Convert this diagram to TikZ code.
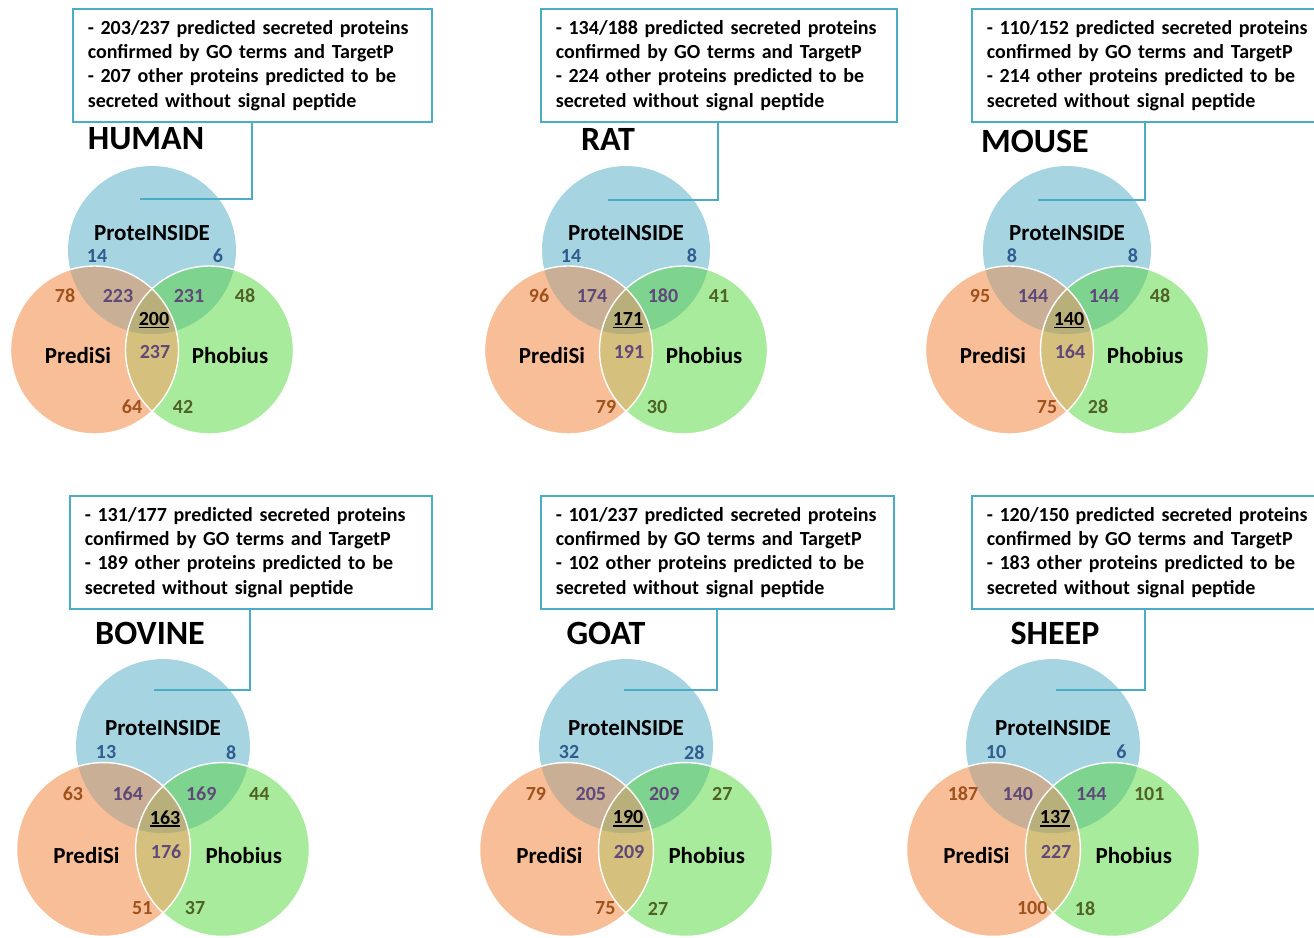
\documentclass[tikz,border=0pt]{standalone}
\usepackage{fontspec}
\setmainfont{Carlito}
\usepackage{tikz}

\definecolor{protfill}{HTML}{A7D4E1}
\definecolor{predfill}{HTML}{F8BE97}
\definecolor{phobfill}{HTML}{A9EB9C}
\definecolor{ppfill}{HTML}{C8AF95}
\definecolor{bgfill}{HTML}{7ED38E}
\definecolor{ogfill}{HTML}{D5C07E}
\definecolor{allfill}{HTML}{B9AF7A}
\definecolor{notec}{HTML}{4BACC6}
\definecolor{numblue}{HTML}{2F5D8F}
\definecolor{numorange}{HTML}{A0521C}
\definecolor{numgreen}{HTML}{4F6228}
\definecolor{numpurple}{HTML}{60497A}

% underlined count for the three-way overlap
\newcommand\ulnum[1]{\setbox0\hbox{#1}\rlap{\smash{\rule[-3pt]{\wd0}{1.8pt}}}\box0}

\begin{document}
\begin{tikzpicture}[x=1pt,y=-1pt,
  note/.style={draw=notec,line width=1.6pt,fill=white,anchor=north west,
    inner xsep=15pt,inner ysep=0pt,minimum height=113pt,align=left,
    font=\fontsize{20}{24.4}\selectfont\bfseries},
  title/.style={font=\fontsize{34}{40}\selectfont\bfseries,inner sep=0pt},
  lab/.style={font=\fontsize{23}{28}\selectfont\bfseries,inner sep=0pt},
  num/.style={font=\fontsize{20}{24}\selectfont\bfseries,inner sep=0pt},
  link/.style={draw=notec,line width=1.6pt}]
  \useasboundingbox (0,0) rectangle (1314,937);
  \clip (0,0) rectangle (1314,937);
  % ---------- Venn diagrams, one per species
  \foreach \cx/\cy/\s/\pl/\pr/\ol/\po/\pg/\gr/\all/\og/\ob/\gb [count=\k] in {
      152/250/1/14/6/78/223/231/48/200/237/64/42,
      626/250/1/14/8/96/174/180/41/171/191/79/30,
      1067/250/1/8/8/95/144/144/48/140/164/75/28,
      163/746/1.035/13/8/63/164/169/44/163/176/51/37,
      626/746/1.035/32/28/79/205/209/27/190/209/75/27,
      1053/746/1.035/10/6/187/140/144/101/137/227/100/18}{
    \begin{scope}[shift={(\cx,\cy)},scale=\s]
      \fill[protfill] (0,0) circle (84);
      \fill[predfill] (-57.5,100) circle (84);
      \fill[phobfill] (57.5,100) circle (84);
      \begin{scope}
        \clip (-57.5,100) circle (84);
        \fill[ogfill] (57.5,100) circle (84);
      \end{scope}
      \begin{scope}
        \clip (0,0) circle (84);
        \fill[ppfill] (-57.5,100) circle (84);
        \fill[bgfill] (57.5,100) circle (84);
        \clip (-57.5,100) circle (84);
        \fill[allfill] (57.5,100) circle (84);
      \end{scope}
      \draw[white,line width=1.4pt] (-57.5,100) circle (84);
      \draw[white,line width=1.4pt] (57.5,100) circle (84);
      \node[lab] (pi\k) at (0,-17) {ProteINSIDE};
      \node[lab] (ps\k) at (-74,106) {PrediSi};
      \node[lab] (ph\k) at (78,106) {Phobius};
      \node[num,numblue] (pl\k) at (-55,6) {\pl};
      \node[num,numblue] (pr\k) at (66,6) {\pr};
      \node[num,numorange] (ol\k) at (-87,46) {\ol};
      \node[num,numpurple] (po\k) at (-34,46) {\po};
      \node[num,numpurple] (pg\k) at (37,46) {\pg};
      \node[num,numgreen] (gr\k) at (93,46) {\gr};
      \node[num] (all\k) at (2,69) {\ulnum{\all}};
      \node[num,numpurple] (og\k) at (3,102) {\og};
      \node[num,numorange] (ob\k) at (-20,157) {\ob};
      \node[num,numgreen] (gb\k) at (31,157) {\gb};
    \end{scope}}
  % ---------- notes, titles and leader lines
  \foreach \bl/\bt/\br/\kx/\ky/\ex/\tx/\ty/\ttl/\ca/\cb/\oth [count=\k] in {
      72/8/431/252/199/140/146/139/HUMAN/203/237/207,
      540/8/896/718/200/608/608/139/RAT/134/188/224,
      971/8/1330/1145/200/1038/1035/141/MOUSE/110/152/214,
      69/495/431/250/690/154/150/633/BOVINE/131/177/189,
      540/495/893/717/690/624/606/633/GOAT/101/237/102,
      971/495/1330/1145/690/1056/1055/633/SHEEP/120/150/183}{
    \pgfmathsetmacro\tw{\br-\bl-30}
    \node[note,text width=\tw pt] (box\k) at (\bl,\bt)
      {\mbox{- \ca/\cb{} predicted secreted proteins}\\
       \mbox{confirmed by GO terms and TargetP}\\
       \mbox{- \oth{} other proteins predicted to be}\\
       \mbox{secreted without signal peptide}};
    \node[title] (name\k) at (\tx,\ty) {\ttl};
    \coordinate (knee\k) at (\kx,\ky);
    \coordinate (tip\k) at (\ex,\ky);
    \draw[link] (box\k.south -| knee\k) -- (knee\k) -- (tip\k);
  }
\end{tikzpicture}
\end{document}
